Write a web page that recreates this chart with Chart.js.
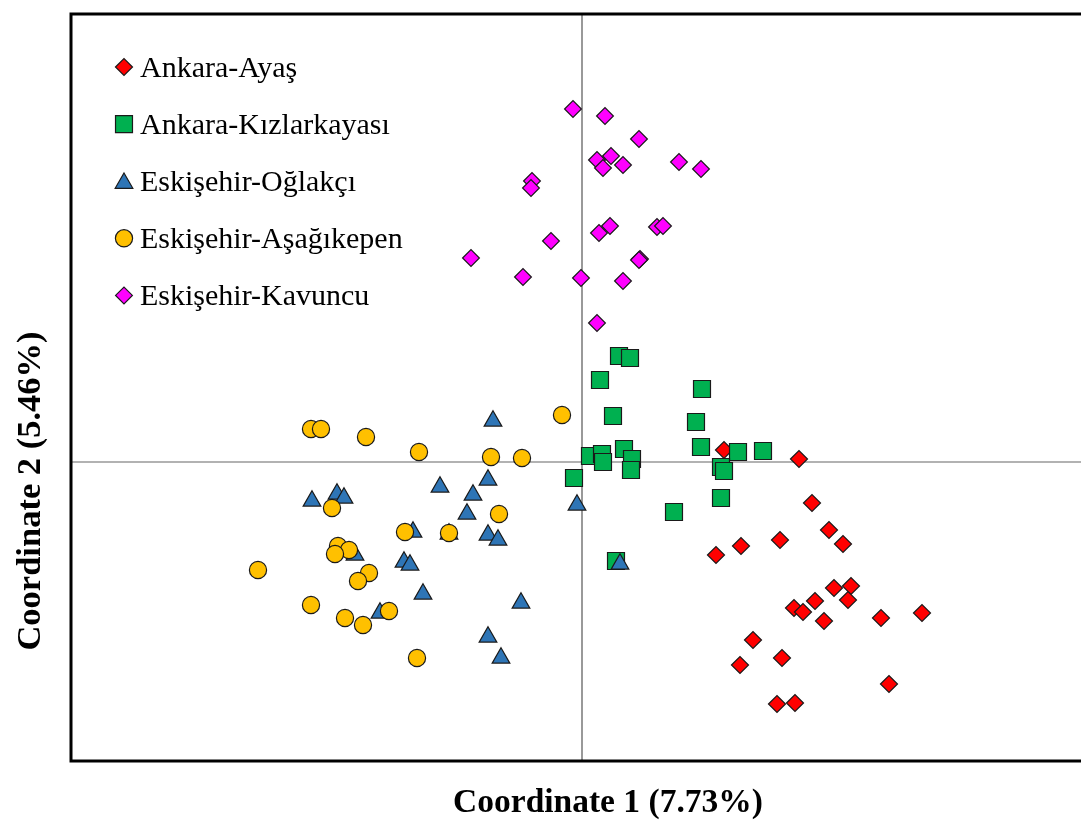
<!DOCTYPE html>
<html>
<head>
<meta charset="utf-8">
<title>PCoA</title>
<script src="https://cdn.jsdelivr.net/npm/chart.js"></script>
<style>
  html, body { margin: 0; padding: 0; background: #ffffff; overflow: hidden; }
  #wrap { width: 1081px; height: 820px; overflow: hidden; }
  canvas { display: block; }
</style>
</head>
<body>
<div id="wrap"><canvas id="pcoa" width="1160" height="820"></canvas></div>
<script>
// Population labels and axis titles
const populations = ['Ankara-Ayaş', 'Ankara-Kızlarkayası', 'Eskişehir-Oğlakçı', 'Eskişehir-Aşağıkepen', 'Eskişehir-Kavuncu'];
const xTitle = 'Coordinate 1 (7.73%)';
const yTitle = 'Coordinate 2 (5.46%)';

// Coordinate 1 / Coordinate 2 scores per individual
const ayasX = [1.42, 2.17, 2.30, 2.47, 2.61, 1.98, 1.59, 1.34, 2.52, 2.69, 2.66, 2.33, 2.12, 2.21, 2.42, 2.99, 3.40, 1.71, 2.00, 1.58, 3.07, 1.95, 2.13];
const ayasY = [0.12, 0.03, -0.41, -0.68, -0.82, -0.78, -0.84, -0.93, -1.26, -1.24, -1.38, -1.39, -1.46, -1.50, -1.59, -1.56, -1.51, -1.78, -1.96, -2.03, -2.22, -2.42, -2.41];

const kizlarX = [0.37, 0.48, 0.18, 1.20, 0.31, 1.14, 1.19, 1.56, 1.81, 0.08, 0.20, 0.21, 0.42, 0.50, 0.49, 1.39, 1.42, -0.08, 1.39, 0.92, 0.34];
const kizlarY = [1.06, 1.04, 0.82, 0.73, 0.46, 0.40, 0.15, 0.10, 0.11, 0.06, 0.08, 0.00, 0.13, 0.03, -0.08, -0.05, -0.09, -0.16, -0.36, -0.50, -0.99];

const oglakciX = [-0.89, -0.94, -1.42, -1.09, -1.15, -2.70, -2.45, -2.38, -1.69, -1.33, -0.94, -0.84, -2.27, -1.78, -1.72, -1.59, -0.61, -2.02, -0.94, -0.81, -0.05, 0.38];
const oglakciY = [0.41, -0.18, -0.25, -0.33, -0.52, -0.39, -0.32, -0.36, -0.70, -0.72, -0.73, -0.78, -0.93, -1.00, -1.03, -1.32, -1.41, -1.51, -1.75, -1.96, -0.43, -1.02];

const asagiX = [-2.71, -2.61, -2.16, -1.63, -0.91, -0.60, -2.50, -0.83, -1.77, -1.33, -2.44, -2.33, -2.47, -3.24, -2.13, -2.24, -2.71, -2.37, -1.93, -2.19, -1.65, -0.20];
const asagiY = [0.33, 0.33, 0.25, 0.10, 0.05, 0.04, -0.46, -0.52, -0.70, -0.71, -0.84, -0.88, -0.92, -1.08, -1.11, -1.19, -1.43, -1.56, -1.49, -1.63, -1.96, 0.47];

const kavuncuX = [-0.09, 0.23, 0.57, 0.15, 0.29, 0.21, 0.41, 0.97, 1.19, -0.50, -0.51, 0.28, 0.17, 0.75, 0.81, -0.31, -1.11, 0.58, 0.57, -0.59, -0.01, 0.41, 0.15];
const kavuncuY = [3.53, 3.46, 3.23, 3.02, 3.06, 2.94, 2.97, 3.00, 2.93, 2.81, 2.74, 2.36, 2.29, 2.35, 2.36, 2.21, 2.04, 2.03, 2.02, 1.85, 1.84, 1.81, 1.39];

function toPoints(xs, ys) {
  return xs.map((x, i) => ({ x: x, y: ys[i] }));
}

const markerStyles = [
  { pointStyle: 'rectRot',  radius: 8.5, fill: '#ff0000' },
  { pointStyle: 'rect',     radius: 12, fill: '#00b050' },
  { pointStyle: 'triangle', radius: 10.2, fill: '#2e75b6' },
  { pointStyle: 'circle',   radius: 8.6, fill: '#ffc000' },
  { pointStyle: 'rectRot',  radius: 8.4, fill: '#ff00ff' }
];

const seriesData = [
  toPoints(ayasX, ayasY),
  toPoints(kizlarX, kizlarY),
  toPoints(oglakciX, oglakciY),
  toPoints(asagiX, asagiY),
  toPoints(kavuncuX, kavuncuY)
];

const datasets = populations.map((name, i) => ({
  label: name,
  data: seriesData[i],
  pointStyle: markerStyles[i].pointStyle,
  pointRadius: markerStyles[i].radius,
  pointHoverRadius: markerStyles[i].radius,
  backgroundColor: markerStyles[i].fill,
  borderColor: '#1a1a1a',
  borderWidth: 1.2,
  // later populations are painted over earlier ones
  order: populations.length - i
}));

const serif = "'Liberation Serif', 'Times New Roman', 'DejaVu Serif', serif";

// Origin lines, plot frame, axis titles and the in-plot legend
const decorations = {
  id: 'decorations',
  beforeDatasetsDraw(chart) {
    const { ctx, chartArea: a, scales } = chart;
    const x0 = scales.x.getPixelForValue(0);
    const y0 = scales.y.getPixelForValue(0);
    ctx.save();
    ctx.strokeStyle = '#999999';
    ctx.lineWidth = 2;
    ctx.beginPath();
    ctx.moveTo(x0, a.top);
    ctx.lineTo(x0, a.bottom);
    ctx.stroke();
    ctx.lineWidth = 1.6;
    ctx.beginPath();
    ctx.moveTo(a.left, y0);
    ctx.lineTo(a.right, y0);
    ctx.stroke();
    ctx.restore();
  },
  afterDraw(chart) {
    const { ctx, chartArea: a } = chart;
    ctx.save();
    // frame
    ctx.strokeStyle = '#000000';
    ctx.lineWidth = 3;
    ctx.strokeRect(a.left, a.top, a.right - a.left, a.bottom - a.top);

    // axis titles
    ctx.fillStyle = '#000000';
    ctx.textAlign = 'center';
    ctx.textBaseline = 'middle';
    ctx.font = 'bold 33.5px ' + serif;
    ctx.fillText(xTitle, (a.left + a.right) / 2, 803);
    ctx.save();
    ctx.translate(31, 491);
    ctx.rotate(-Math.PI / 2);
    ctx.font = 'bold 34.5px ' + serif;
    ctx.fillText(yTitle, 0, 0);
    ctx.restore();

    // legend
    const lx = 124, ly0 = 67, step = 57.1;
    ctx.font = '30px ' + serif;
    ctx.textAlign = 'left';
    ctx.textBaseline = 'alphabetic';
    populations.forEach((name, i) => {
      const y = ly0 + i * step;
      const m = markerStyles[i];
      const py = m.pointStyle === 'triangle' ? y + 2 : y;
      ctx.fillStyle = m.fill;
      ctx.strokeStyle = '#1a1a1a';
      ctx.lineWidth = 1.2;
      Chart.helpers.drawPoint(ctx, { pointStyle: m.pointStyle, radius: m.radius, rotation: 0, borderWidth: 1.2 }, lx, py);
      ctx.fillStyle = '#000000';
      ctx.fillText(name, 140, y + 10);
    });
    ctx.restore();
  }
};

new Chart(document.getElementById('pcoa'), {
  type: 'scatter',
  data: { datasets: datasets },
  options: {
    responsive: false,
    animation: false,
    devicePixelRatio: 1,
    layout: { padding: { left: 71, right: 15, top: 14, bottom: 59 } },
    scales: {
      x: { type: 'linear', min: -5.11, max: 5.63, display: false },
      y: { type: 'linear', min: -2.99, max: 4.48, display: false }
    },
    plugins: {
      legend: { display: false },
      tooltip: { enabled: false }
    }
  },
  plugins: [decorations]
});
</script>
</body>
</html>
